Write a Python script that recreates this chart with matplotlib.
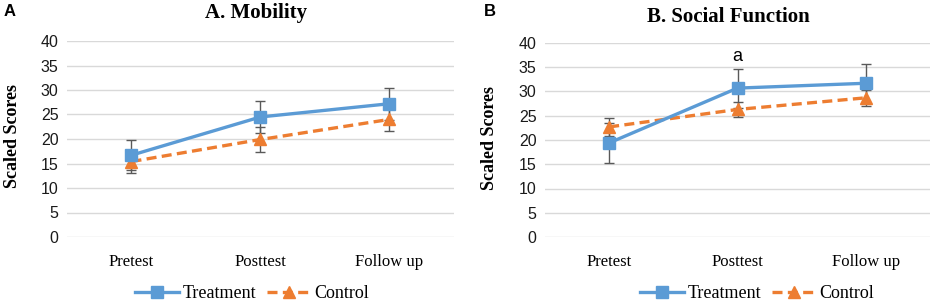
import matplotlib.pyplot as plt

categories = ["Pretest", "Posttest", "Follow up"]

# panel A - Mobility
mob_treat = [16.7, 24.5, 27.2]
mob_treat_err = [3.1, 3.2, 3.3]
mob_ctrl = [15.4, 19.9, 24.0]
mob_ctrl_err = [2.4, 2.5, 2.4]

# panel B - Social Function
soc_treat = [19.4, 30.7, 31.7]
soc_treat_err = [4.1, 4.0, 4.0]
soc_ctrl = [22.7, 26.3, 28.7]
soc_ctrl_err = [1.8, 1.6, 1.7]

blue = "#5B9BD5"
orange = "#ED7D31"
errc = "#595959"
serif = "Liberation Serif"
sans = "Liberation Sans"

fig = plt.figure(figsize=(9.45, 3.05), dpi=100)
W, H = 945, 305


def panel(left, right, top, bottom, treat, terr, ctrl, cerr, leg_x):
    ax = fig.add_axes([left / W, 1 - bottom / H, (right - left) / W, (bottom - top) / H])
    x = [0.5, 1.5, 2.5]
    ax.errorbar(x, treat, yerr=terr, fmt="none", ecolor=errc, elinewidth=1, capsize=3.5, zorder=2)
    ax.errorbar(x, ctrl, yerr=cerr, fmt="none", ecolor=errc, elinewidth=1, capsize=3.5, zorder=2)
    ax.plot(x, treat, color=blue, lw=2.4, marker="s", ms=8.5, label="Treatment", zorder=4)
    ax.plot(x, ctrl, color=orange, lw=2.4, ls=(0, (3, 1.6)), marker="^", ms=8.5, label="Control", zorder=3)
    ax.set_xlim(0, 3)
    ax.set_ylim(0, 40)
    ax.set_yticks(range(0, 41, 5))
    ax.set_xticks(x)
    ax.set_xticklabels(categories, fontfamily=serif, fontsize=12)
    for t in ax.get_yticklabels():
        t.set_fontfamily(sans)
        t.set_fontsize(11.5)
        t.set_color("#1a1a1a")
    ax.tick_params(length=0, pad=6)
    ax.tick_params(axis="x", pad=12)
    ax.grid(axis="y", color="#D9D9D9", lw=1)
    ax.set_axisbelow(True)
    for s in ax.spines.values():
        s.set_visible(False)
    ax.legend(loc="center", bbox_to_anchor=(leg_x / W, 1 - 294 / H), bbox_transform=fig.transFigure,
              ncol=2, frameon=False, prop={"family": serif, "size": 13},
              handlelength=2.4, handletextpad=0.2, columnspacing=0.6, borderaxespad=0)
    return ax


axA = panel(67, 454, 41, 237, mob_treat, mob_treat_err, mob_ctrl, mob_ctrl_err, 252)
axB = panel(545, 930, 43, 237, soc_treat, soc_treat_err, soc_ctrl, soc_ctrl_err, 757)

axB.text(1.5, 37.3, "a", ha="center", va="center", fontfamily=sans, fontsize=13)

fig.text(256 / W, 1 - 13 / H, "A. Mobility", ha="center", va="center",
         fontfamily=serif, fontweight="bold", fontsize=15)
fig.text(728 / W, 1 - 17 / H, "B. Social Function", ha="center", va="center",
         fontfamily=serif, fontweight="bold", fontsize=15)
fig.text(13 / W, 1 - 136 / H, "Scaled Scores", rotation=90, ha="center", va="center",
         fontfamily=serif, fontweight="bold", fontsize=13)
fig.text(489 / W, 1 - 138 / H, "Scaled Scores", rotation=90, ha="center", va="center",
         fontfamily=serif, fontweight="bold", fontsize=13)
fig.text(4 / W, 1 - 11 / H, "A", ha="left", va="center", fontfamily=sans, fontweight="bold", fontsize=12)
fig.text(484 / W, 1 - 11 / H, "B", ha="left", va="center", fontfamily=sans, fontweight="bold", fontsize=12)

fig.savefig("out.png", dpi=100)
